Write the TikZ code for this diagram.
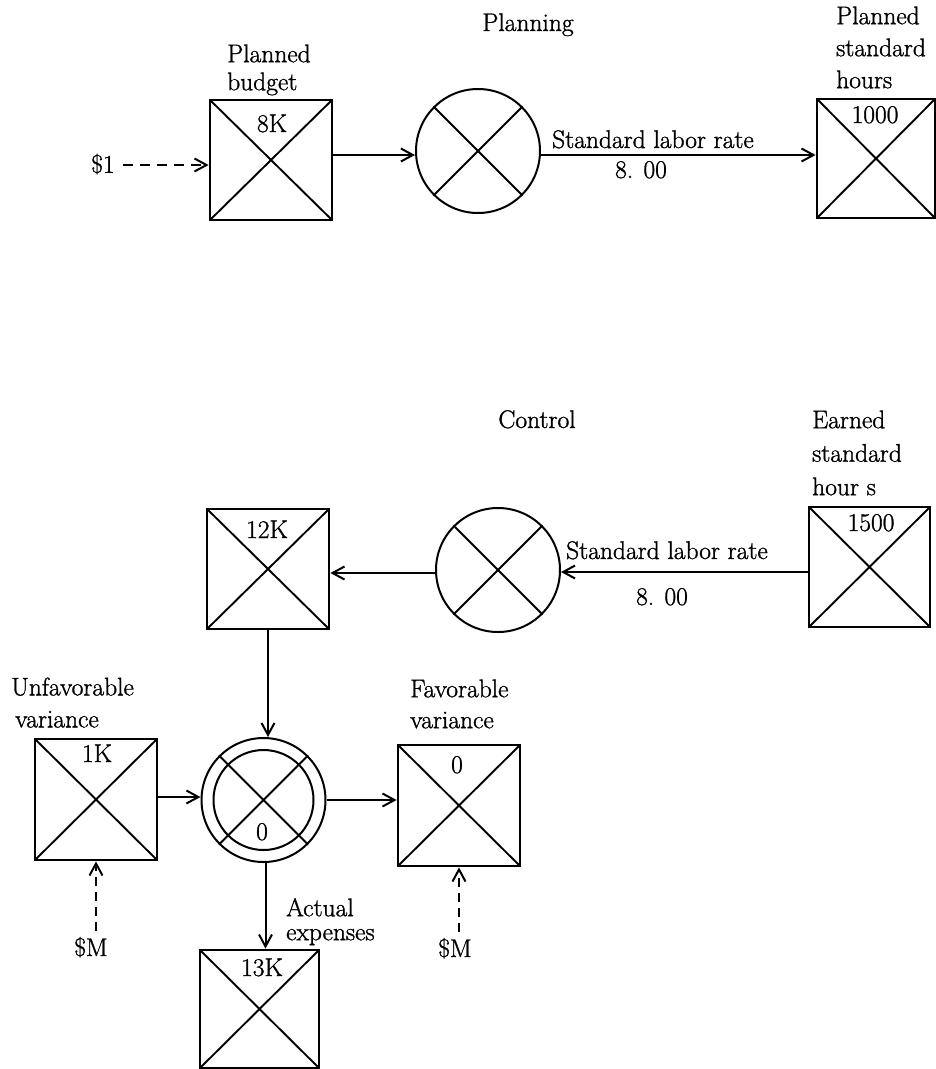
\documentclass[tikz,border=0pt]{standalone}
\usepackage{fontspec}
\setmainfont{Latin Modern Roman}[FakeBold=1.2]
\usetikzlibrary{arrows.meta}
\begin{document}
\begin{tikzpicture}[x=1pt,y=-1pt,
  txt/.style={font=\fontsize{25.5}{32}\selectfont, inner sep=0pt},
  lab/.style={txt, align=left, anchor=north west},
  val/.style={txt, anchor=base},
  box/.style={draw, line width=2.8pt, rectangle, inner sep=0pt,
    minimum width=122pt, minimum height=120pt,
    path picture={\draw[line width=1.9pt]
      (path picture bounding box.north west) -- (path picture bounding box.south east)
      (path picture bounding box.north east) -- (path picture bounding box.south west);}},
  mult/.style={draw, circle, line width=2pt, inner sep=0pt, minimum size=124pt},
  xl/.style={line width=1.9pt},
  conn/.style={line width=2pt, -{Straight Barb[length=12pt,width=13pt,line width=2pt]}},
  dconn/.style={conn, dash pattern=on 10pt off 7pt}]
\useasboundingbox (0,0) rectangle (936,1069);

% ---------- Planning ----------
\node[val] (tplan) at (528,31) {Planning};
\node[box] (pb) at (271,160) {};
\node[lab, font=\fontsize{25.5}{28}\selectfont] (tpb) at (227,44.3) {Planned\\budget};
\node[val] (v8k) at (272,132) {8K};
\node[txt] (d1) at (103,164) {\$1};
\draw[dconn, shorten <=8pt] ([yshift=-1pt]d1.east) -- ([yshift=-1pt]d1.east -| pb.west);

\node[mult] (pc) at (478,151) {};
\draw[xl] (pc.135) -- (pc.-45) (pc.45) -- (pc.-135);
\draw[conn] ([yshift=5pt]pb.east) -- ([yshift=5pt]pb.east -| pc.west);

\node[box, minimum width=118pt, minimum height=119pt] (psh) at (876,158.5) {};
\node[lab] (tpsh) at (836,6.3) {Planned\\standard\\hours};
\node[val] (v1000) at (875,123) {1000};
\draw[conn] ([yshift=-4pt]pc.east) -- ([yshift=-4pt]pc.east -| psh.west);
\node[val] (slr1) at (653,148) {Standard labor rate};
\node[val] (r1) at (641,178) {8. 00};

% ---------- Control ----------
\node[val] (tctl) at (537,428) {Control};
\node[box] (b12) at (268,569) {};
\node[val] (v12k) at (267,538) {12K};
\node[mult] (cc) at (498,570) {};
\draw[xl] (cc.135) -- (cc.-45) (cc.45) -- (cc.-135);
\node[box, minimum width=121pt] (esh) at (869.5,567) {};
\node[lab, font=\fontsize{25.5}{33.5}\selectfont] (tesh) at (812,410.3) {Earned\\standard\\hour s};
\node[val] (v1500) at (871,531) {1500};
\draw[conn] ([yshift=-5pt]esh.west) -- ([yshift=-5pt]esh.west -| cc.east);
\node[txt, anchor=base west] (slr2) at (566,559) {Standard labor rate};
\node[val] (r2) at (662,605) {8. 00};
\draw[conn] ([yshift=-3pt]cc.west) -- ([yshift=-3pt]cc.west -| b12.east);

% ---------- Variance ----------
\node[mult] (vc) at (263.5,800) {};
\draw[line width=2pt] (vc.center) circle[radius=50];
\draw[xl] (vc.135) -- (vc.-45) (vc.45) -- (vc.-135);
\node[val] (v0c) at (262,840) {0};
\draw[conn] (b12.south) -- (b12.south |- vc.north);

\node[box, minimum height=121pt] (uv) at (96,799.5) {};
\node[lab] (tuv) at (11,677.3) {Unfavorable\\\hspace*{4pt}variance};
\node[val] (v1k) at (97,762) {1K};
\draw[conn] ([yshift=2.5pt]uv.east) -- ([yshift=2.5pt]uv.east -| vc.west);

\node[box, minimum height=121pt] (fv) at (459,805.5) {};
\node[lab, font=\fontsize{25.5}{31}\selectfont] (tfv) at (410,679.3) {Favorable\\variance};
\node[val] (v0f) at (457,773) {0};
\draw[conn] (vc.east) -- (vc.east -| fv.west);

\node[box, minimum width=119pt, minimum height=118pt] (ae) at (259.5,1009) {};
\node[lab, font=\fontsize{25.5}{24}\selectfont] (tae) at (286,898) {Actual\\expenses};
\node[val] (v13k) at (262,976) {13K};
\draw[conn] ([xshift=2pt]vc.south) -- ([xshift=2pt]vc.south |- ae.north);

\node[val] (m1) at (91,956) {\$M};
\draw[dconn, shorten <=6pt, dash pattern=on 9pt off 6pt] (m1.north -| uv.south) -- (uv.south);
\node[val] (m2) at (455,957) {\$M};
\draw[dconn, shorten <=6pt, dash pattern=on 9pt off 6pt] (m2.north -| fv.south) -- (fv.south);
\end{tikzpicture}
\end{document}
